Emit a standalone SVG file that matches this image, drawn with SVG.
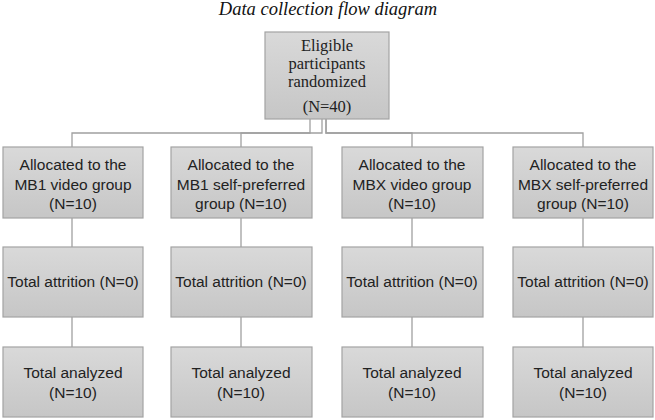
<svg xmlns="http://www.w3.org/2000/svg" width="655" height="420" viewBox="0 0 655 420">
<defs>
<linearGradient id="g" x1="0" y1="0" x2="0" y2="1">
<stop offset="0" stop-color="#d9d9d9"/>
<stop offset="1" stop-color="#c6c6c6"/>
</linearGradient>
<style>
.box{fill:url(#g);stroke:#a3a3a3;stroke-width:1.2}
.t{font-family:"Liberation Sans",Arial,sans-serif;font-size:15.5px;fill:#222;text-anchor:middle}
.s{font-family:"Liberation Serif","Times New Roman",serif;font-size:16.5px;fill:#222;text-anchor:middle}
.c{fill:none;stroke:#a0a0a0;stroke-width:1.3}
</style>
</defs>
<rect width="655" height="420" fill="#fff"/>
<text x="328" y="15" font-family="Liberation Serif, serif" font-style="italic" font-size="18.5" fill="#111" text-anchor="middle">Data collection flow diagram</text>
<g id="connectors">
<path class="c" d="M310,119 V133 H72 V147"/>
<path class="c" d="M322,119 V133 H241 V147"/>
<path class="c" d="M326,119 V133 H412 V147"/>
<path class="c" d="M326,119 V133 H583 V147"/>
<path class="c" d="M72,218 V247 M72,317 V347"/>
<path class="c" d="M241,218 V247 M241,317 V347"/>
<path class="c" d="M412,218 V247 M412,317 V347"/>
<path class="c" d="M583,218 V247 M583,317 V347"/>
</g>
<g id="root">
<rect class="box" x="265" y="32" width="124" height="87"/>
<text class="s" x="327" y="51">Eligible</text>
<text class="s" x="327" y="69">participants</text>
<text class="s" x="327" y="87">randomized</text>
<text class="s" x="327" y="112">(N=40)</text>
</g>
<g id="a1">
<rect class="box" x="3" y="147" width="140" height="71"/>
<text class="t" x="73" y="170">Allocated to the</text>
<text class="t" x="73" y="190">MB1 video group</text>
<text class="t" x="73" y="209">(N=10)</text>
</g>
<g id="a2">
<rect class="box" x="171" y="147" width="141" height="71"/>
<text class="t" x="241" y="170">Allocated to the</text>
<text class="t" x="241" y="190">MB1 self-preferred</text>
<text class="t" x="241" y="209">group (N=10)</text>
</g>
<g id="a3">
<rect class="box" x="342" y="147" width="141" height="71"/>
<text class="t" x="412" y="170">Allocated to the</text>
<text class="t" x="412" y="190">MBX video group</text>
<text class="t" x="412" y="209">(N=10)</text>
</g>
<g id="a4">
<rect class="box" x="513" y="147" width="140" height="71"/>
<text class="t" x="583" y="170">Allocated to the</text>
<text class="t" x="583" y="190">MBX self-preferred</text>
<text class="t" x="583" y="209">group (N=10)</text>
</g>
<g id="t1"><rect class="box" x="3" y="247" width="140" height="70"/><text class="t" x="73" y="287">Total attrition (N=0)</text></g>
<g id="t2"><rect class="box" x="171" y="247" width="141" height="70"/><text class="t" x="241" y="287">Total attrition (N=0)</text></g>
<g id="t3"><rect class="box" x="342" y="247" width="141" height="70"/><text class="t" x="412" y="287">Total attrition (N=0)</text></g>
<g id="t4"><rect class="box" x="513" y="247" width="140" height="70"/><text class="t" x="583" y="287">Total attrition (N=0)</text></g>
<g id="n1"><rect class="box" x="3" y="347" width="140" height="70"/><text class="t" x="73" y="378">Total analyzed</text><text class="t" x="73" y="398">(N=10)</text></g>
<g id="n2"><rect class="box" x="171" y="347" width="141" height="70"/><text class="t" x="241" y="378">Total analyzed</text><text class="t" x="241" y="398">(N=10)</text></g>
<g id="n3"><rect class="box" x="342" y="347" width="141" height="70"/><text class="t" x="412" y="378">Total analyzed</text><text class="t" x="412" y="398">(N=10)</text></g>
<g id="n4"><rect class="box" x="513" y="347" width="140" height="70"/><text class="t" x="583" y="378">Total analyzed</text><text class="t" x="583" y="398">(N=10)</text></g>
</svg>
